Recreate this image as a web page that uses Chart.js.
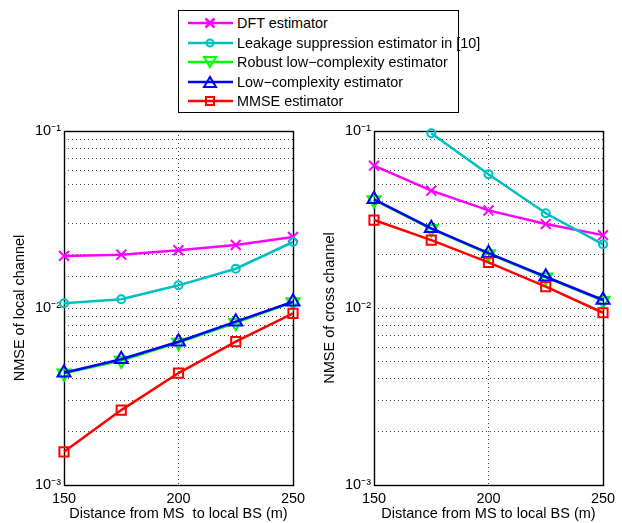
<!DOCTYPE html>
<html><head><meta charset="utf-8">
<script src="https://cdn.jsdelivr.net/npm/chart.js@4/dist/chart.umd.min.js"></script>
<style>
html,body{margin:0;padding:0;background:#fff;}
#wrap{position:relative;width:622px;height:523px;overflow:hidden;background:#fff;}
#wrap canvas{position:absolute;left:0;top:0;pointer-events:none;}
#legend{position:absolute;left:178px;top:10px;width:279px;height:101px;border:1px solid #000;background:#fff;font:14.4px "Liberation Sans",Arial,Helvetica,sans-serif;color:#000;z-index:5;}
.row{position:absolute;left:0;height:20px;width:279px;}
.row svg{position:absolute;left:8px;top:0;}
.row span{position:absolute;left:58px;top:1px;line-height:18px;white-space:nowrap;}
</style>
</head><body>
<div id="wrap">
<canvas id="c1" width="622" height="523"></canvas>
<canvas id="c2" width="622" height="523"></canvas>
<div id="legend"></div>
</div>
<script>
// ---- data ----
const distances = [150, 175, 200, 225, 250];
const seriesNames = [
  'DFT estimator',
  'Leakage suppression estimator in [10]',
  'Robust low\u2212complexity estimator',
  'Low\u2212complexity estimator',
  'MMSE estimator'
];
const seriesColors = ['#ff00ff', '#00bfbf', '#00ff00', '#0000ff', '#ff0000'];

// left panel: NMSE of local channel
const localDFT     = [0.0197, 0.0200, 0.0212, 0.0227, 0.0252];
const localLeak    = [0.01063, 0.0112, 0.01343, 0.01667, 0.0236];
const localRobust  = [0.00428, 0.00505, 0.00638, 0.00825, 0.0108];
const localLowCx   = [0.00431, 0.00513, 0.00645, 0.00837, 0.01085];
const localMMSE    = [0.00154, 0.00265, 0.00429, 0.00645, 0.00933];

// right panel: NMSE of cross channel
const crossDFT     = [0.0637, 0.0460, 0.0356, 0.0298, 0.0258];
const crossLeak    = [null, 0.0971, 0.0569, 0.0343, 0.0229];
const crossRobust  = [0.0408, 0.0280, 0.0202, 0.0149, 0.0110];
const crossLowCx   = [0.0411, 0.0282, 0.0204, 0.01502, 0.0111];
const crossMMSE    = [0.0314, 0.0242, 0.0181, 0.0132, 0.0094];

const xTickValues = [150, 200, 250];
const yTickValues = [0.001, 0.01, 0.1];
const yTickLabels = ['10\u207B\u00B3', '10\u207B\u00B2', '10\u207B\u00B9'];

// ---- styles ----
const FONT = '"Liberation Sans", Arial, Helvetica, sans-serif';
const FS = 14.5;
const markerStyles = [
  {pointStyle: 'crossRot', radius: 7, rotation: 0},
  {pointStyle: 'circle', radius: 4, rotation: 0},
  {pointStyle: 'triangle', radius: 7.5, rotation: 180},
  {pointStyle: 'triangle', radius: 7.5, rotation: 0},
  {pointStyle: 'rect', radius: 6.5, rotation: 0}
];

function makeDatasets(seriesList) {
  return seriesList.map((vals, i) => ({
    label: seriesNames[i],
    data: distances.map((x, j) => ({x: x, y: vals[j]})),
    borderColor: seriesColors[i],
    borderWidth: 2.5,
    pointStyle: markerStyles[i].pointStyle,
    pointRadius: markerStyles[i].radius,
    pointRotation: markerStyles[i].rotation,
    pointBorderColor: seriesColors[i],
    pointBackgroundColor: 'rgba(0,0,0,0)',
    pointBorderWidth: 2,
    fill: false,
    tension: 0,
    spanGaps: false,
    clip: false,
    order: seriesList.length - i
  }));
}

const framePlugin = {
  id: 'frame',
  beforeDatasetsDraw(chart) {
    const a = chart.chartArea, ctx = chart.ctx;
    ctx.save();
    ctx.strokeStyle = '#000';
    ctx.lineWidth = 1.4;
    ctx.strokeRect(Math.round(a.left) + 0.5, Math.round(a.top) + 0.5,
                   Math.round(a.right - a.left), Math.round(a.bottom - a.top));
    ctx.restore();
  }
};

function makeChart(id, series, yTitle, xTitle, padLeft, padRight) {
  return new Chart(document.getElementById(id), {
    type: 'line',
    data: {datasets: makeDatasets(series)},
    plugins: [framePlugin],
    options: {
      responsive: false,
      animation: false,
      devicePixelRatio: 1,
      events: [],
      layout: {padding: {left: padLeft, right: padRight, top: 131, bottom: 0}},
      plugins: {legend: {display: false}, tooltip: {enabled: false}, title: {display: false}},
      scales: {
        x: {
          type: 'linear', min: 150, max: 250,
          afterBuildTicks: s => { s.ticks = xTickValues.map(v => ({value: v})); },
          afterFit: s => { s.height = 38; },
          ticks: {color: '#000', font: {family: FONT, size: FS}, padding: 5, maxRotation: 0, autoSkip: false},
          grid: {color: '#444', lineWidth: 1, drawTicks: false},
          border: {display: false, dash: [1, 3]},
          title: {display: true, text: xTitle, color: '#000', font: {family: FONT, size: FS}, padding: {top: 0, bottom: 0}}
        },
        y: {
          type: 'logarithmic', min: 0.001, max: 0.1,
          afterFit: s => { s.width = 64; },
          ticks: {
            color: '#000', font: {family: FONT, size: FS}, padding: 3, autoSkip: false,
            callback: v => { const k = yTickValues.findIndex(t => Math.abs(t - v) / t < 1e-6); return k >= 0 ? yTickLabels[k] : ''; }
          },
          grid: {color: '#444', lineWidth: 1, drawTicks: false},
          border: {display: false, dash: [1, 3]},
          title: {display: true, text: yTitle, color: '#000', font: {family: FONT, size: FS}, padding: {top: 11, bottom: 0}}
        }
      }
    }
  });
}

makeChart('c1', [localDFT, localLeak, localRobust, localLowCx, localMMSE],
  'NMSE of local channel', 'Distance from MS  to local BS (m)', 0, 329);
makeChart('c2', [crossDFT, crossLeak, crossRobust, crossLowCx, crossMMSE],
  'NMSE of cross channel', 'Distance from MS to local BS (m)', 310, 19);

// ---- legend (HTML) ----
function markerSVG(i) {
  const c = seriesColors[i], cx = 23, cy = 10;
  let m = '';
  if (i === 0) m = `<path d="M${cx-4.5} ${cy-4.5} L${cx+4.5} ${cy+4.5} M${cx-4.5} ${cy+4.5} L${cx+4.5} ${cy-4.5}" stroke="${c}" stroke-width="2.5"/>`;
  if (i === 1) m = `<circle cx="${cx}" cy="${cy}" r="3.5" fill="none" stroke="${c}" stroke-width="2"/>`;
  if (i === 2) m = `<path d="M${cx-6} ${cy-5} L${cx+6} ${cy-5} L${cx} ${cy+5} Z" fill="none" stroke="${c}" stroke-width="2"/>`;
  if (i === 3) m = `<path d="M${cx-6} ${cy+5} L${cx+6} ${cy+5} L${cx} ${cy-5} Z" fill="none" stroke="${c}" stroke-width="2"/>`;
  if (i === 4) m = `<rect x="${cx-4}" y="${cy-4}" width="8" height="8" fill="none" stroke="${c}" stroke-width="2"/>`;
  return `<svg width="47" height="20" viewBox="0 0 47 20"><line x1="1" y1="${cy}" x2="46" y2="${cy}" stroke="${c}" stroke-width="2.5"/>${m}</svg>`;
}
const rowCenters = [12.3, 31.7, 51, 70.5, 89.7];
const leg = document.getElementById('legend');
seriesNames.forEach((name, i) => {
  const r = document.createElement('div');
  r.className = 'row';
  r.style.top = (rowCenters[i] - 10) + 'px';
  r.innerHTML = markerSVG(i) + '<span></span>';
  r.querySelector('span').textContent = name;
  leg.appendChild(r);
});
</script>
</body></html>
